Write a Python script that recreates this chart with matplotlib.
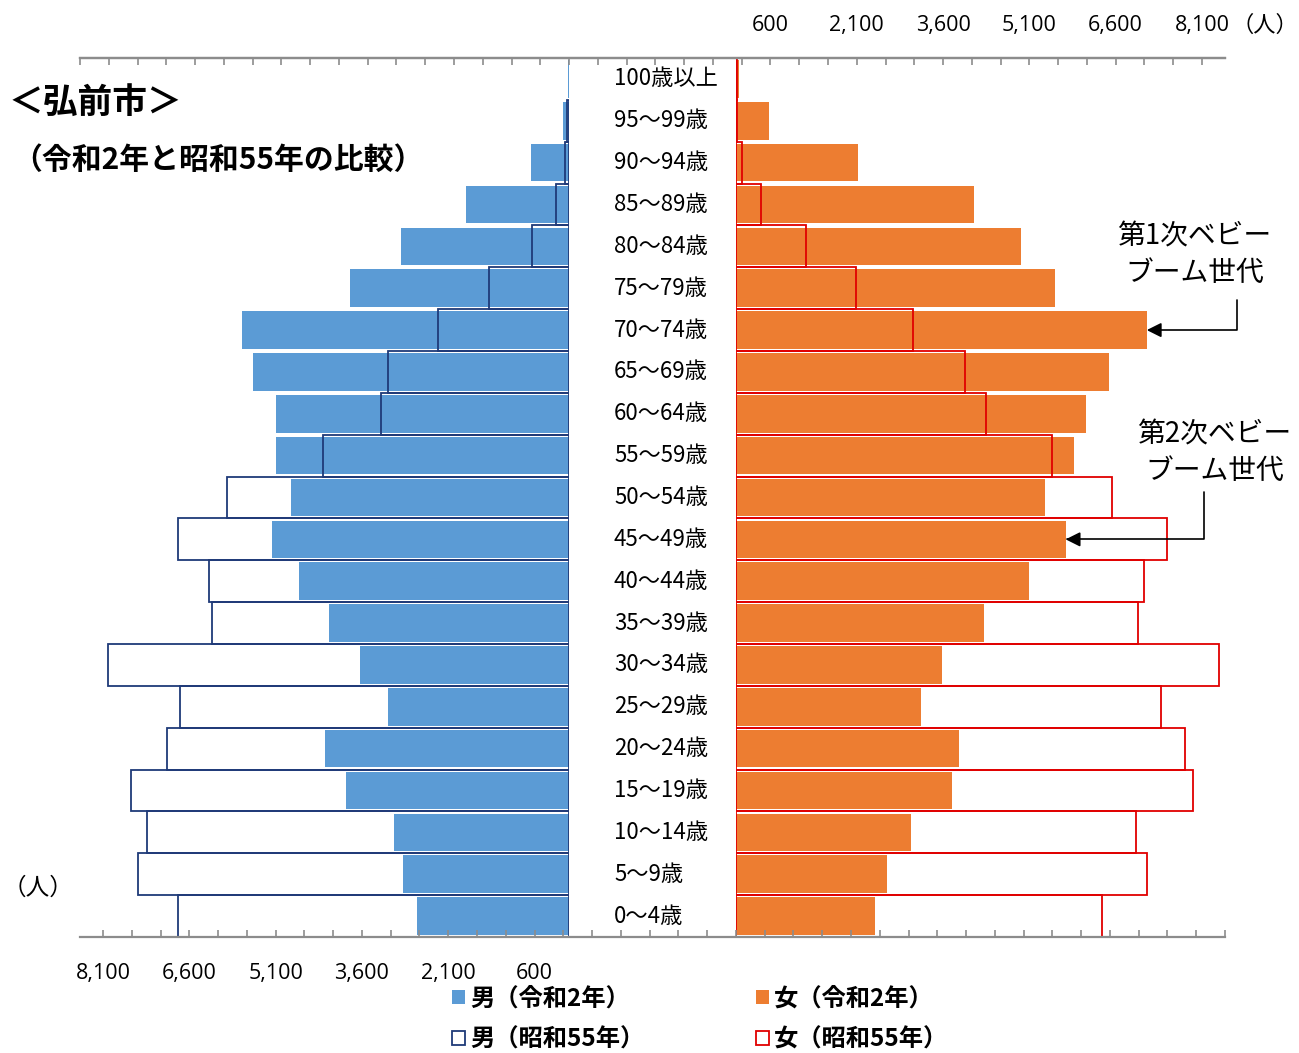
import numpy as np
import matplotlib
matplotlib.use("Agg")
import matplotlib.pyplot as plt

plt.rcParams['font.family'] = ['Noto Sans CJK JP', 'DejaVu Sans']

# age groups, bottom to top
ages = ['0～4歳', '5～9歳', '10～14歳', '15～19歳', '20～24歳', '25～29歳',
        '30～34歳', '35～39歳', '40～44歳', '45～49歳', '50～54歳', '55～59歳',
        '60～64歳', '65～69歳', '70～74歳', '75～79歳', '80～84歳', '85～89歳',
        '90～94歳', '95～99歳', '100歳以上']

male_r2 = [2640, 2880, 3040, 3870, 4240, 3140, 3630, 4170, 4700, 5170, 4840,
           5090, 5100, 5500, 5690, 3800, 2920, 1790, 660, 100, 10]
male_s55 = [6800, 7500, 7340, 7620, 6980, 6770, 8020, 6200, 6250, 6790, 5950,
            4270, 3260, 3140, 2270, 1390, 640, 225, 70, 35, 0]
female_r2 = [2410, 2620, 3040, 3750, 3870, 3210, 3590, 4310, 5090, 5730, 5380,
             5870, 6090, 6480, 7140, 5540, 4950, 4130, 2120, 570, 60]
female_s55 = [6370, 7150, 6960, 7950, 7800, 7380, 8390, 6980, 7100, 7500, 6530,
              5490, 4340, 3980, 3070, 2080, 1220, 430, 100, 20, 15]

tick_labels = [600, 2100, 3600, 5100, 6600, 8100]

W, H = 1299, 1053
fig = plt.figure(figsize=(W / 100, H / 100), dpi=100)

# pixel layout
x0, x1 = 80, 1225
ytop, ybot = 58, 937
XMAX = 8500
K = (x1 - x0) / (XMAX + 11400)
xl_end = x0 + XMAX * K
xr_start = x0 + 11400 * K

def rect(px_l, px_r):
    return [px_l / W, 1 - ybot / H, (px_r - px_l) / W, (ybot - ytop) / H]

tick_font = ['Open Sans', 'DejaVu Sans']

y = np.arange(len(ages))

ax_l = fig.add_axes(rect(x0, xl_end))
ax_r = fig.add_axes(rect(xr_start, x1))
for ax in (ax_l, ax_r):
    ax.set_ylim(-0.5, len(ages) - 0.5)
    ax.axis('off')
    ax.patch.set_alpha(0)
ax_l.set_xlim(XMAX, 0)
ax_r.set_xlim(0, XMAX)

h1 = ax_l.barh(y, male_r2, height=0.9, color='#5B9BD5', label='男（令和2年）')
h2 = ax_l.barh(y, male_s55, height=1.0, facecolor='none', edgecolor='#1F3A78',
               lw=1.3, label='男（昭和55年）')
h3 = ax_r.barh(y, female_r2, height=0.9, color='#ED7D31', label='女（令和2年）')
h4 = ax_r.barh(y, female_s55, height=1.0, facecolor='none', edgecolor='#E00000',
               lw=1.3, label='女（昭和55年）')
for p, v in zip(h2.patches, male_s55):
    if v == 0:
        p.set_visible(False)

# axis lines with ticks spanning full width, drawn over the bars
ax_bg = fig.add_axes(rect(x0, x1))
ax_bg.set_zorder(3)
ax_bg.patch.set_visible(False)
ax_bg.set_xlim(XMAX, -11400)
ax_bg.set_ylim(0, 1)
ax_bg.set_yticks([])
for s in ['left', 'right']:
    ax_bg.spines[s].set_visible(False)
for s in ['top', 'bottom']:
    ax_bg.spines[s].set_color('#8c8c8c')
    ax_bg.spines[s].set_linewidth(1.6)
ticks = np.arange(-11400, 8101, 500)
def fmt(v):
    return f'{int(v):,}' if int(v) in tick_labels else ''
ax_bg.set_xticks(ticks)
ax_bg.set_xticklabels([fmt(v) for v in ticks], fontsize=15.5, family=tick_font)
ax_bg.tick_params(axis='x', direction='in', length=5, width=1.2, color='#8c8c8c', pad=19)

ax_top = ax_bg.twiny()
ax_top.patch.set_visible(False)
ax_top.set_xlim(-11400, XMAX)
ax_top.set_xticks(ticks)
ax_top.set_xticklabels([fmt(v) for v in ticks], fontsize=15.5, family=tick_font)
ax_top.tick_params(axis='x', direction='in', length=5, width=1.2, color='#8c8c8c', pad=16)
for s in ['left', 'right', 'bottom']:
    ax_top.spines[s].set_visible(False)
ax_top.spines['top'].set_color('#8c8c8c')
ax_top.spines['top'].set_linewidth(1.6)

# age labels in the middle
for i, a in enumerate(ages):
    fig.text(614 / W, 1 - (ybot - (i + 0.5) * (ybot - ytop) / len(ages)) / H, a,
             fontsize=16, ha='left', va='center')

# titles and units
fig.text(8 / W, 1 - 102 / H, '＜弘前市＞', fontsize=25, fontweight='bold', va='center')
fig.text(12 / W, 1 - 160 / H, '（令和2年と昭和55年の比較）', fontsize=21.5,
         fontweight='bold', va='center')
fig.text(1298 / W, 1 - 25 / H, '（人）', fontsize=16, ha='right', va='center')
fig.text(3 / W, 1 - 888 / H, '（人）', fontsize=17, ha='left', va='center')

# baby boom annotations
ax_r.text(7969, 15.8, '第1次ベビー\nブーム世代', fontsize=20, ha='center', va='center',
          linespacing=1.25, clip_on=False)
ax_r.annotate('', xy=(7140, 14), xytext=(8715, 14.72), annotation_clip=False,
              arrowprops=dict(arrowstyle='-|>', color='black', lw=1.2, mutation_scale=22,
                              shrinkA=0, shrinkB=0,
                              connectionstyle='angle,angleA=-90,angleB=0,rad=0'))
ax_r.text(8316, 11.07, '第2次ベビー\nブーム世代', fontsize=20, ha='center', va='center',
          linespacing=1.25, clip_on=False)
ax_r.annotate('', xy=(5730, 9), xytext=(8142, 10.13), annotation_clip=False,
              arrowprops=dict(arrowstyle='-|>', color='black', lw=1.2, mutation_scale=22,
                              shrinkA=0, shrinkB=0,
                              connectionstyle='angle,angleA=-90,angleB=0,rad=0'))

fig.legend(handles=[h1, h2, h3, h4], ncol=2, loc='center',
           bbox_to_anchor=(700 / W, 1 - 1019 / H), frameon=False,
           prop={'size': 17.5, 'weight': 'bold'}, handlelength=0.55, handleheight=0.55,
           handletextpad=0.2, columnspacing=4.6, labelspacing=0.7,
           borderpad=0.1)

fig.savefig('out.png', dpi=100)
